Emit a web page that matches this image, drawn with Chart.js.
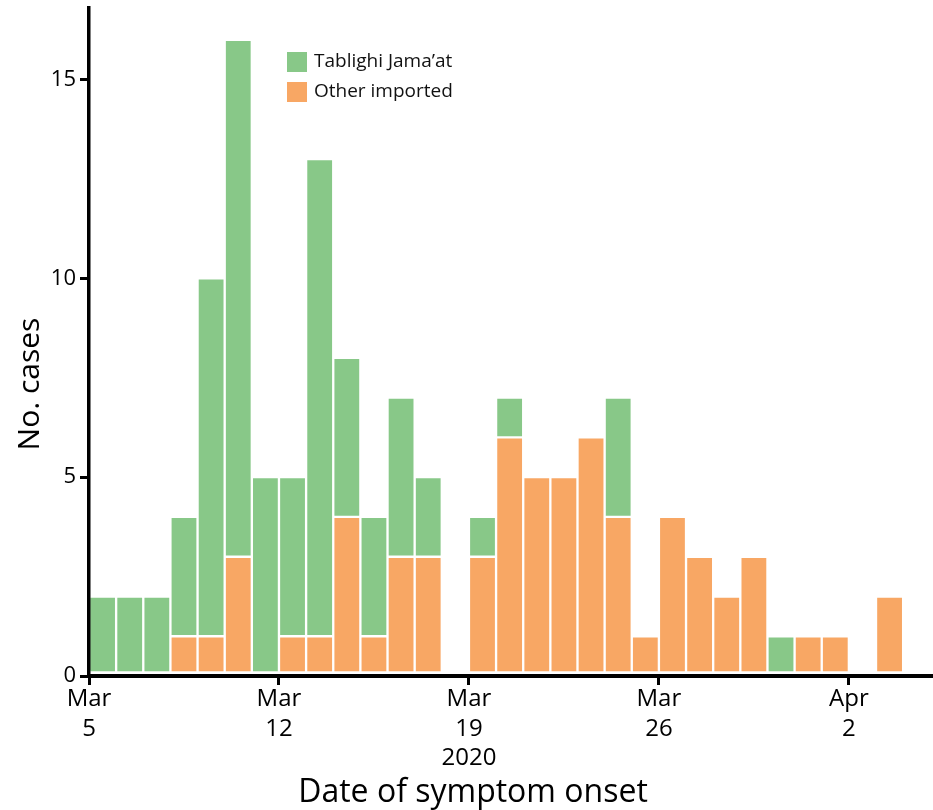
<!DOCTYPE html>
<html>
<head>
<meta charset="utf-8">
<script src="https://cdn.jsdelivr.net/npm/chart.js@4/dist/chart.umd.min.js"></script>
<style>
  html, body { margin: 0; padding: 0; background: #fff; }
  #wrap { width: 933px; height: 810px; position: relative; }
</style>
</head>
<body>
<div id="wrap"><canvas id="myChart"></canvas></div>
<script>
// days from Mar 5 to Apr 3, 2020 (one bar per day)
const days = ['Mar 5','Mar 6','Mar 7','Mar 8','Mar 9','Mar 10','Mar 11','Mar 12','Mar 13','Mar 14',
              'Mar 15','Mar 16','Mar 17','Mar 18','Mar 19','Mar 20','Mar 21','Mar 22','Mar 23','Mar 24',
              'Mar 25','Mar 26','Mar 27','Mar 28','Mar 29','Mar 30','Mar 31','Apr 1','Apr 2','Apr 3'];
const tablighi = [2,2,2,3,9,13,5,4,12,4, 3,4,2,0,1,1,0,0,0,3, 0,0,0,0,0,1,0,0,0,0];
const otherImported = [0,0,0,1,1,3,0,1,1,4, 1,3,3,0,3,6,5,5,6,4, 1,4,3,2,3,0,1,1,0,2];

// ticks on the day axis (day index from Mar 5)
const xTickDays = [0, 7, 14, 21, 28];
const xTickLabels = [['Mar','5'], ['Mar','12'], ['Mar','19','2020'], ['Mar','26'], ['Apr','2']];
const yTicks = [0, 5, 10, 15];

const seriesNames = ['Tablighi Jama\u2019at', 'Other imported'];
const green = '#88c888';
const orange = '#f8a764';
const FONT = '"Open Sans", "Noto Sans", sans-serif';

function toPoints(arr) {
  // bar sits in the middle of its day bin
  return arr.map((v, i) => ({ x: i + 0.5, y: v === 0 ? null : v }));
}

// white edges; a wider one at the bottom when the bar sits on the axis
function edges(onAxis) {
  return { top: 1.5, left: 1.5, right: 1.5, bottom: onAxis ? 3.5 : 1.5 };
}

// legend + axis titles drawn by hand
const extras = {
  id: 'extras',
  afterDraw(chart) {
    const ctx = chart.ctx;
    ctx.save();
    // legend
    const cols = [green, orange];
    ctx.font = '19px ' + FONT;
    ctx.textBaseline = 'middle';
    ctx.textAlign = 'left';
    for (let i = 0; i < seriesNames.length; i++) {
      const y = 52 + i * 30;
      ctx.fillStyle = cols[i];
      ctx.fillRect(287, y, 20, 20);
      ctx.fillStyle = '#111';
      ctx.fillText(seriesNames[i], 314, y + 10);
    }
    // x title
    ctx.font = '32px ' + FONT;
    ctx.textAlign = 'center';
    ctx.fillStyle = '#000';
    ctx.fillText('Date of symptom onset', 473, 793);
    // y title
    ctx.font = '30px ' + FONT;
    ctx.translate(30, 384);
    ctx.rotate(-Math.PI / 2);
    ctx.fillText('No. cases', 0, 0);
    ctx.restore();
  }
};

new Chart(document.getElementById('myChart'), {
  type: 'bar',
  data: {
    datasets: [{
      label: seriesNames[1],
      data: toPoints(otherImported),
      backgroundColor: orange,
      borderColor: '#fff',
      borderWidth: edges(true),
      borderSkipped: false
    }, {
      label: seriesNames[0],
      data: toPoints(tablighi),
      backgroundColor: green,
      borderColor: '#fff',
      borderWidth: c => edges(!otherImported[c.dataIndex]),
      borderSkipped: false
    }]
  },
  options: {
    responsive: true,
    maintainAspectRatio: false,
    animation: false,
    layout: { padding: { top: 8, right: 0, left: 0, bottom: 0 } },
    barPercentage: 1,
    categoryPercentage: 1,
    plugins: {
      legend: { display: false },
      tooltip: { enabled: false }
    },
    scales: {
      x: {
        type: 'linear',
        stacked: true,
        offset: false,
        min: 0,
        max: 31.1,
        afterBuildTicks: s => { s.ticks = xTickDays.map(v => ({ value: v })); },
        afterFit: s => { s.height = 134; s.paddingLeft = 0; s.paddingRight = 0; },
        border: { color: '#000', width: 4, z: 1 },
        grid: { offset: false, drawOnChartArea: false, drawTicks: true, tickLength: 9, color: '#000', lineWidth: 3 },
        ticks: {
          color: '#000',
          font: { family: FONT, size: 24, lineHeight: 1.22 },
          padding: 0,
          maxRotation: 0,
          autoSkip: false,
          callback: v => {
            const k = xTickDays.indexOf(v);
            return k >= 0 ? xTickLabels[k] : '';
          }
        }
      },
      y: {
        stacked: true,
        min: 0,
        max: 16.8,
        afterBuildTicks: s => { s.ticks = yTicks.map(v => ({ value: v })); },
        afterFit: s => { s.width = 89; s.paddingTop = 0; s.paddingBottom = 0; },
        border: { color: '#000', width: 3.5, z: 1 },
        grid: { drawOnChartArea: false, drawTicks: true, tickLength: 9, color: '#000', lineWidth: 3 },
        ticks: {
          color: '#000',
          font: { family: FONT, size: 22 },
          padding: 4
        }
      }
    }
  },
  plugins: [extras]
});
</script>
</body>
</html>
